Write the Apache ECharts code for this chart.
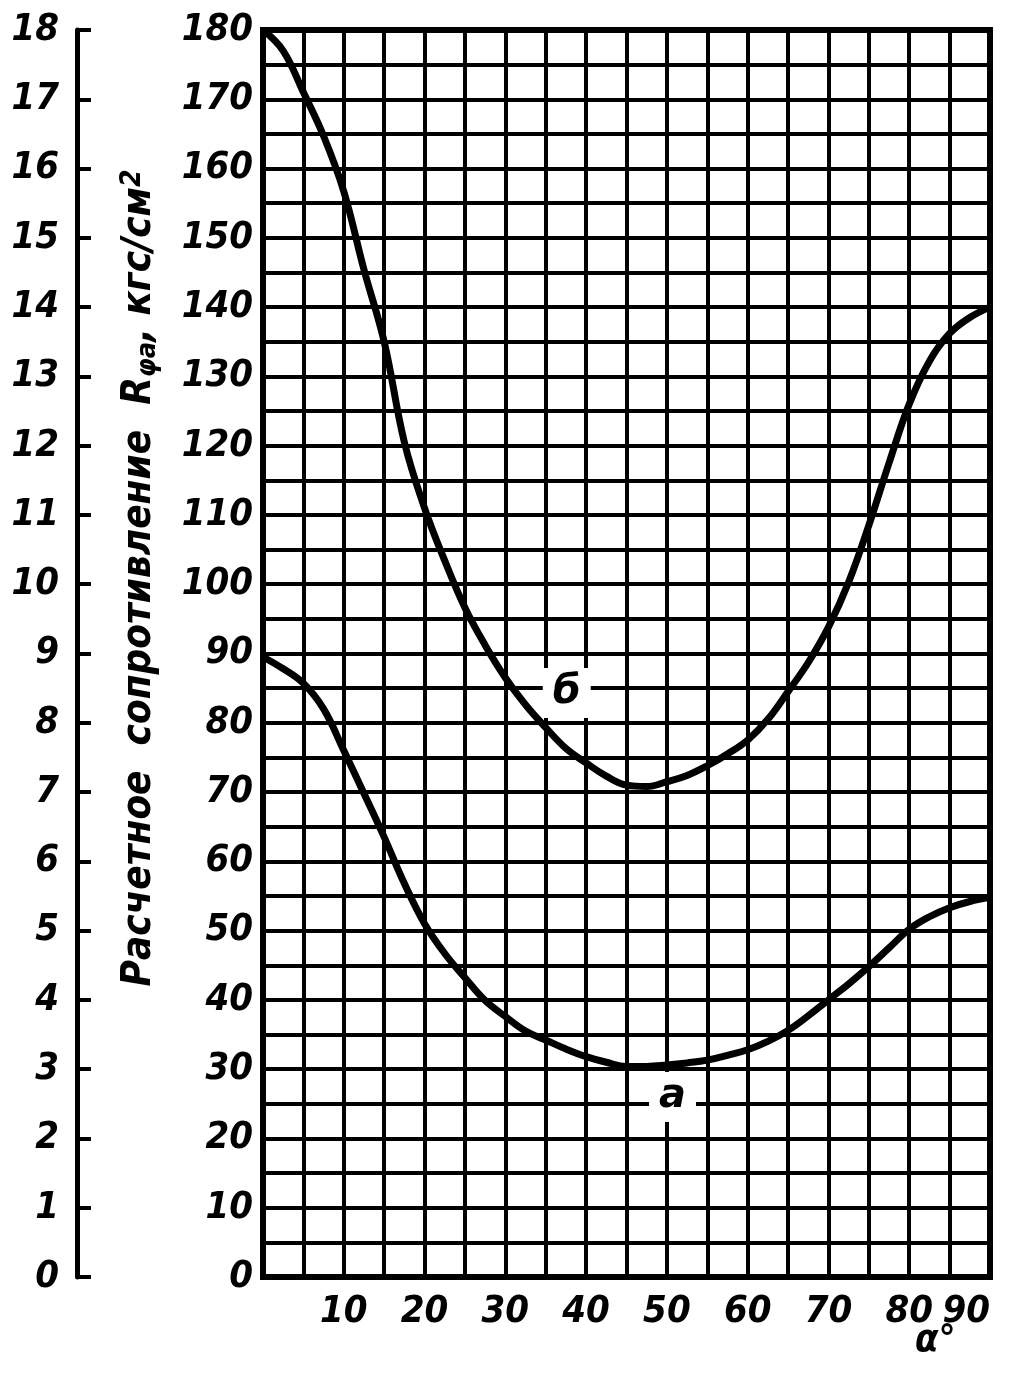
<!DOCTYPE html>
<html>
<head>
<meta charset="utf-8">
<script src="https://cdn.jsdelivr.net/npm/echarts@6/dist/echarts.min.js"></script>
<style>
html,body{margin:0;padding:0;background:#fff;}
#chart{width:1010px;height:1376px;}
</style>
</head>
<body>
<div id="chart"></div>
<script>
// ---- data ----
const xTickLabels = [10, 20, 30, 40, 50, 60, 70, 80, 90];
const yTickLabelsMain = [0, 10, 20, 30, 40, 50, 60, 70, 80, 90, 100, 110, 120, 130, 140, 150, 160, 170, 180];
const yTickLabelsOuter = [0, 1, 2, 3, 4, 5, 6, 7, 8, 9, 10, 11, 12, 13, 14, 15, 16, 17, 18];

// angle samples (degrees)
const angles = [0, 2.5, 5, 7.5, 10, 12.5, 15, 17.5, 20, 22.5, 25, 27.5, 30, 32.5, 35, 37.5, 40, 42.5, 45, 47.5, 50, 52.5, 55, 57.5, 60, 62.5, 65, 67.5, 70, 72.5, 75, 77.5, 80, 82.5, 85, 87.5, 90];

// curve б (upper)
const curveB = [180, 177, 171, 164.7, 156.7, 145.4, 135, 120.5, 111, 103.4, 96.6, 91.2, 86.5, 82.6, 79.3, 76.3, 74.2, 72.3, 71, 70.8, 71.5, 72.4, 73.8, 75.5, 77.5, 80.5, 84.5, 88.7, 93.8, 100.3, 108.5, 117.5, 126, 132.2, 136.2, 138.5, 140];

// curve а (lower)
const curveA = [89.5, 87.8, 85.7, 82, 76, 69.8, 63.5, 56.8, 51, 46.7, 43.2, 39.9, 37.6, 35.5, 34.2, 32.9, 31.8, 31, 30.4, 30.4, 30.6, 30.9, 31.3, 32, 32.8, 34, 35.6, 37.7, 40, 42.3, 44.8, 47.5, 50.2, 52, 53.3, 54.2, 54.8];

// curve labels
const labelNames = ['б', 'а'];
const labelAngles = [37.6, 50.7];
const labelValues = [84.3, 26];

const FONT = "'Liberation Sans Narrow', 'DejaVu Sans Condensed', sans-serif";

function pairs(xs, ys){ return xs.map((x,i)=>[x, ys[i]]); }

const chart = echarts.init(document.getElementById('chart'), null, {renderer:'canvas'});

const labelStyle = {
  color:'#000', fontFamily: FONT, fontStyle:'italic', fontWeight:'bold', fontSize: 38
};

function curveLabelMark(i){
  return {
    symbol:'circle', symbolSize:1, silent:true,
    itemStyle:{color:'#fff', opacity:1},
    label:{
      show:true, position:'inside', formatter:labelNames[i],
      color:'#000000', opacity:1,
      fontFamily:"'DejaVu Sans', sans-serif", fontStyle:'italic', fontWeight:'bold', fontSize:40,
      backgroundColor:'#ffffff', padding:[4,10,6,10]
    },
    data:[{coord:[labelAngles[i], labelValues[i]]}]
  };
}

const option = {
  backgroundColor:'#fff',
  animation:false,
  grid:{
    left:263, right:20, top:30, bottom:99,
    show:true, borderColor:'#000', borderWidth:6, backgroundColor:'#fff',
    containLabel:false, outerBoundsMode:'none'
  },
  xAxis:{
    type:'value', min:0, max:90, interval:5,
    axisLine:{show:true, lineStyle:{color:'#000', width:6}},
    axisTick:{show:false},
    splitLine:{show:true, lineStyle:{color:'#000', width:4}},
    axisLabel:Object.assign({}, labelStyle, {
      margin:16, alignMaxLabel:'right', interval:0,
      formatter:(v)=> xTickLabels.includes(v) ? String(v) : ''
    })
  },
  yAxis:[
    {
      type:'value', min:0, max:180, interval:5, position:'left',
      axisLine:{show:true, lineStyle:{color:'#000', width:6}},
      axisTick:{show:false},
      splitLine:{show:true, lineStyle:{color:'#000', width:4}},
      axisLabel:Object.assign({}, labelStyle, {
        margin:10, interval:0, padding:[0,0,10,0],
        formatter:(v)=> yTickLabelsMain.includes(v) ? String(v) : ''
      })
    },
    {
      type:'value', min:0, max:18, interval:1, position:'left', offset:186,
      axisLine:{show:true, lineStyle:{color:'#000', width:5}},
      axisTick:{show:true, inside:true, length:14, lineStyle:{color:'#000', width:4}},
      splitLine:{show:false},
      axisLabel:Object.assign({}, labelStyle, {
        margin:18, interval:0, padding:[0,0,10,0],
        formatter:(v)=> yTickLabelsOuter.includes(v) ? String(v) : ''
      })
    }
  ],
  graphic:[
    {
      type:'text', x:140, y:578, rotation:Math.PI/2,
      style:{
        text:'Расчетное  сопротивление  R{sub|φа}, кгс/см{sup|2}',
        fill:'#000', font:"italic bold 40px " + FONT,
        align:'center', verticalAlign:'middle',
        rich:{
          sub:{fontFamily:FONT, fontStyle:'italic', fontWeight:'bold', fontSize:27, fill:'#000', verticalAlign:'bottom', padding:[16,0,0,0]},
          sup:{fontFamily:FONT, fontStyle:'italic', fontWeight:'bold', fontSize:28, fill:'#000', verticalAlign:'top', padding:[0,0,14,0]}
        }
      }
    },
    {type:'text', left:915, top:1322, style:{text:'α°', fill:'#000', font:"italic bold 38px " + FONT}}
  ],
  series:[
    {
      type:'line', name:'б', data:pairs(angles, curveB),
      smooth:0.4, symbol:'none', lineStyle:{color:'#000', width:7}, z:5,
      markPoint:curveLabelMark(0)
    },
    {
      type:'line', name:'а', data:pairs(angles, curveA),
      smooth:0.4, symbol:'none', lineStyle:{color:'#000', width:7}, z:5,
      markPoint:curveLabelMark(1)
    }
  ]
};
chart.setOption(option);
</script>
</body>
</html>
